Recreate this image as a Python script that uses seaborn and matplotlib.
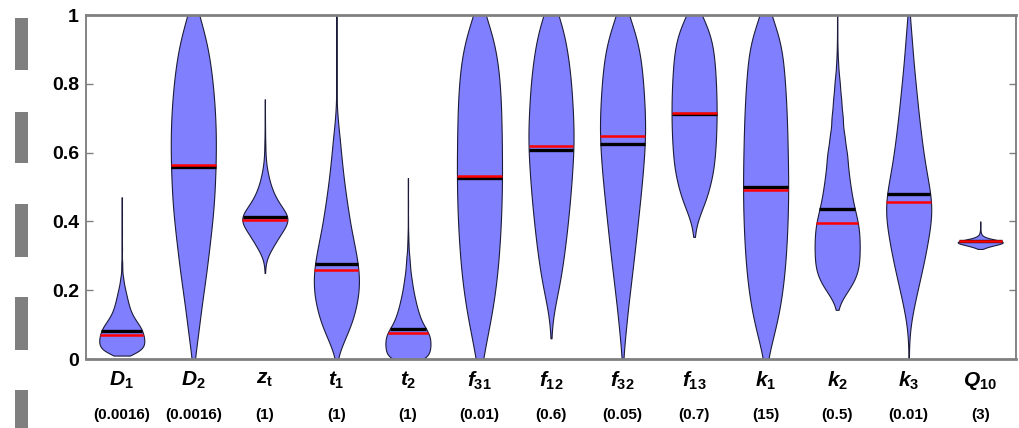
import numpy as np
import pandas as pd
import seaborn as sns
import matplotlib
matplotlib.use("Agg")
import matplotlib.pyplot as plt
from matplotlib.patches import Rectangle

# parameter names, axis labels and nominal values
names = ["D1", "D2", "zt", "t1", "t2", "f31", "f12", "f32", "f13", "k1", "k2", "k3", "Q10"]
labels = [r"$D_1$", r"$D_2$", r"$z_\mathrm{t}$", r"$t_1$", r"$t_2$", r"$f_{31}$", r"$f_{12}$",
          r"$f_{32}$", r"$f_{13}$", r"$k_1$", r"$k_2$", r"$k_3$", r"$Q_{10}$"]
nominal = ["(0.0016)", "(0.0016)", "(1)", "(1)", "(1)", "(0.01)", "(0.6)", "(0.05)",
           "(0.7)", "(15)", "(0.5)", "(0.01)", "(3)"]

# black = mean, red = median (normalised 0..1)
mean_vals = [0.080, 0.557, 0.412, 0.275, 0.088, 0.527, 0.607, 0.625, 0.713, 0.500, 0.435, 0.480, 0.342]
median_vals = [0.070, 0.563, 0.405, 0.260, 0.075, 0.532, 0.618, 0.648, 0.714, 0.490, 0.395, 0.457, 0.342]

# posterior density profiles: levels and relative width
D1_y = [0.01, 0.02, 0.03, 0.04, 0.05, 0.06, 0.07, 0.08, 0.09, 0.10, 0.11, 0.12, 0.13, 0.14,
        0.15, 0.16, 0.17, 0.18, 0.19, 0.20, 0.21, 0.22, 0.23, 0.24, 0.26, 0.28, 0.32, 0.37,
        0.42, 0.47]
D1_w = [7, 16, 20, 21.5, 22, 21.5, 21, 20, 18.5, 16.5, 14, 12, 10, 8.5,
        7.5, 6.5, 5.7, 5, 4.2, 3.5, 2.7, 2, 1.5, 1, 0.5, 0.3, 0.15, 0.1,
        0.1, 0.1]
D2_y = [0.0, 0.05, 0.1, 0.15, 0.2, 0.25, 0.3, 0.35, 0.4, 0.45, 0.5, 0.55, 0.6, 0.65, 0.7,
        0.75, 0.8, 0.85, 0.9, 0.95, 1.0]
D2_w = [1, 4, 6, 8, 10.5, 13, 15, 17, 19, 20.5, 21.5, 22, 22.5, 22.5, 22, 21, 19.5, 17.5, 15, 11, 6]
zt_y = [0.25, 0.27, 0.29, 0.31, 0.33, 0.35, 0.37, 0.39, 0.41, 0.43, 0.45, 0.47, 0.49, 0.51,
        0.53, 0.55, 0.58, 0.62, 0.66, 0.70, 0.755]
zt_w = [0.2, 0.3, 1, 4, 7.5, 11, 14.5, 19, 21.5, 17, 12.5, 9, 6.5, 4.5,
        3, 1.8, 0.8, 0.4, 0.2, 0.1, 0.1]
t1_y = [0.0, 0.03, 0.06, 0.09, 0.12, 0.15, 0.18, 0.21, 0.24, 0.27, 0.30, 0.33, 0.36, 0.39, 0.42,
        0.45, 0.48, 0.51, 0.54, 0.57, 0.60, 0.63, 0.66, 0.70, 0.75, 0.80, 0.85, 0.90, 0.95, 1.0]
t1_w = [0.5, 4, 8.5, 13, 16.5, 19, 21, 22, 22, 21, 19.5, 17.5, 15.5, 13.5, 12,
        10.5, 9, 7.7, 6.5, 5.5, 4.5, 3.5, 2.5, 1.2, 0.3, 0.1, 0.1, 0.1, 0.1, 0.1]
t2_y = [0.0, 0.015, 0.03, 0.045, 0.06, 0.075, 0.09, 0.105, 0.12, 0.135, 0.15, 0.165, 0.18,
        0.195, 0.21, 0.225, 0.24, 0.26, 0.28, 0.30, 0.33, 0.36, 0.40, 0.45, 0.50, 0.526]
t2_w = [20, 20, 21, 21.5, 21, 20, 16.5, 13.5, 11.5, 10, 8.5, 7.5, 6.3,
        5.3, 4.5, 3.7, 3, 2.3, 1.7, 1.2, 0.6, 0.3, 0.1, 0.1, 0.1, 0.1]
f31_y = [0.0, 0.05, 0.1, 0.15, 0.2, 0.25, 0.3, 0.35, 0.4, 0.45, 0.5, 0.55, 0.6, 0.65, 0.7,
         0.75, 0.8, 0.85, 0.9, 0.95, 1.0]
f31_w = [4, 6.5, 10.5, 13.5, 16, 18, 19.5, 20.7, 21.5, 22.2, 22.5, 22.7, 22.5, 22.3, 22,
         21.5, 20.5, 19, 16.5, 12.5, 6]
f12_y = [0.06, 0.09, 0.12, 0.15, 0.2, 0.25, 0.3, 0.35, 0.4, 0.45, 0.5, 0.55, 0.6, 0.65, 0.7,
         0.75, 0.8, 0.85, 0.9, 0.95, 1.0]
f12_w = [0.1, 0.3, 1, 3.5, 7.5, 10, 12.5, 14.5, 16.3, 18, 19.3, 20.5, 21.5, 22, 21.3,
         20.5, 19.5, 17.8, 15.5, 12.5, 8]
f32_y = [0.0, 0.05, 0.1, 0.15, 0.2, 0.25, 0.3, 0.35, 0.4, 0.45, 0.5, 0.55, 0.6, 0.65, 0.7,
         0.75, 0.8, 0.85, 0.9, 0.95, 1.0]
f32_w = [0.3, 2.2, 3.6, 5.3, 7.3, 9.3, 11.2, 13, 14.8, 16.5, 18.2, 19.7, 21, 22, 21.8,
         21, 20, 18.5, 16.5, 12.5, 6]
f13_y = [0.355, 0.38, 0.40, 0.42, 0.44, 0.46, 0.48, 0.52, 0.56, 0.60, 0.64, 0.68, 0.72, 0.76,
         0.80, 0.84, 0.88, 0.92, 0.96, 1.0]
f13_w = [0.1, 0.4, 2, 5, 8.5, 12, 15, 18.5, 20.3, 21.5, 22.3, 22.8, 23, 22.8,
         22.3, 21.5, 20.5, 18.8, 15, 8]
k1_y = [0.0, 0.05, 0.1, 0.15, 0.2, 0.25, 0.3, 0.35, 0.4, 0.45, 0.5, 0.55, 0.6, 0.65, 0.7,
        0.75, 0.8, 0.85, 0.9, 0.95, 1.0]
k1_w = [1.5, 6.5, 11, 14.5, 17, 19, 20.3, 21.2, 22, 22.4, 22.5, 22.4, 22.1, 21.7, 21.2,
        20.5, 19.5, 18.2, 16.5, 13, 5]
k2_y = [0.143, 0.16, 0.185, 0.21, 0.235, 0.26, 0.285, 0.31, 0.335, 0.36, 0.385, 0.41, 0.435,
        0.46, 0.485, 0.51, 0.535, 0.56, 0.585, 0.61, 0.65, 0.70, 0.75, 0.80, 0.85, 0.90, 0.95, 1.0]
k2_w = [0.3, 1.5, 7, 13, 17.5, 20, 20.7, 21, 21, 20.8, 20.2, 18.5, 16.5,
        14.5, 13.3, 12, 11, 10, 9.2, 8.3, 6.8, 5.2, 3.8, 2.5, 1, 0.3, 0.1, 0.1]
k3_y = [0.0, 0.04, 0.08, 0.12, 0.16, 0.20, 0.24, 0.28, 0.32, 0.36, 0.40, 0.44, 0.48, 0.52,
        0.56, 0.60, 0.64, 0.68, 0.72, 0.76, 0.80, 0.84, 0.88, 0.92, 0.96, 1.0]
k3_w = [0.1, 0.3, 0.8, 2.8, 5.5, 8.5, 11.5, 14.5, 17, 19.3, 21.5, 22.5, 21, 18.5,
        16, 14, 12.3, 10.8, 9.2, 8, 6.7, 5.3, 4.2, 3.2, 2.2, 1]
Q10_y = [0.32, 0.325, 0.33, 0.335, 0.34, 0.345, 0.35, 0.355, 0.36, 0.365, 0.37, 0.38, 0.39, 0.40]
Q10_w = [0.5, 5, 9, 16, 21, 14, 6, 2.5, 1, 0.5, 0.3, 0.1, 0.1, 0.1]

profiles = {"D1": (D1_y, D1_w), "D2": (D2_y, D2_w), "zt": (zt_y, zt_w), "t1": (t1_y, t1_w),
            "t2": (t2_y, t2_w), "f31": (f31_y, f31_w), "f12": (f12_y, f12_w),
            "f32": (f32_y, f32_w), "f13": (f13_y, f13_w), "k1": (k1_y, k1_w),
            "k2": (k2_y, k2_w), "k3": (k3_y, k3_w), "Q10": (Q10_y, Q10_w)}

plt.rcParams['font.family'] = ['Liberation Sans', 'DejaVu Sans']
plt.rcParams['mathtext.fontset'] = 'custom'
plt.rcParams['mathtext.it'] = 'Liberation Sans:italic:bold'
plt.rcParams['mathtext.rm'] = 'Liberation Sans:bold'
plt.rcParams['mathtext.bf'] = 'Liberation Sans:bold'

fig = plt.figure(figsize=(10.19, 4.28), dpi=100)
ax = fig.add_axes([86 / 1019, 69 / 428, 930 / 1019, 344 / 428])

polys = []
for name in names:
    yv = np.array(profiles[name][0])
    # mass at each level = width * local level spacing, turned into repeated samples
    mass = np.array(profiles[name][1]) * np.gradient(yv)
    counts = np.maximum(1, np.round(mass * 3000 / mass.sum())).astype(int)
    samples = np.repeat(yv, counts)
    sd = samples.std(ddof=1)
    bw = np.median(np.diff(yv))
    df = pd.DataFrame({"param": name, "value": samples})
    sns.violinplot(data=df, x="param", y="value", order=names, cut=0,
                   bw_method=bw / sd, density_norm="width", width=0.63, inner=None,
                   color="#8080ff", saturation=1, linecolor="#1c1c3a", linewidth=0.8, ax=ax)
    polys.append(ax.collections[-1])

# mean / median bars spanning the violin at their level
for i, coll in enumerate(polys):
    v = coll.get_paths()[0].vertices
    r = v[v[:, 0] >= i]
    o = np.argsort(r[:, 1])
    for val, col, lw in ((mean_vals[i], "black", 2.4), (median_vals[i], "#ff0000", 1.8)):
        hw = np.interp(val, r[o, 1], r[o, 0]) - i
        ax.plot([i - hw, i + hw], [val, val], color=col, lw=lw, solid_capstyle="butt", zorder=3)

ax.set_xlim(-0.5, 12.5)
ax.set_ylim(0, 1)
ax.set_xlabel("")
ax.set_ylabel("")
ax.set_xticks(range(len(names)))
ax.set_xticklabels(labels, fontsize=15)
ax.tick_params(axis="x", length=0, pad=8)
ax.set_yticks([0, 0.2, 0.4, 0.6, 0.8, 1.0])
ax.set_yticklabels(["0", "0.2", "0.4", "0.6", "0.8", "1"], fontsize=14, fontweight="bold")
ax.tick_params(axis="y", direction="in", right=True, length=5, width=1, color="#808080", pad=5)
for side in ["top", "bottom"]:
    ax.spines[side].set_linewidth(2)
    ax.spines[side].set_color("#808080")
for side in ["left", "right"]:
    ax.spines[side].set_linewidth(1.2)
    ax.spines[side].set_color("#707070")

for i, s in enumerate(nominal):
    ax.text(i, -0.163, s, transform=ax.get_xaxis_transform(), ha="center", va="center",
            fontsize=11, fontweight="bold")

# grey marks in the left margin of the scanned page
for top, bot in [(18, 70), (112, 163), (204, 257), (297, 350), (390, 428)]:
    fig.add_artist(Rectangle((15 / 1019, 1 - bot / 428), 13 / 1019, (bot - top) / 428,
                             transform=fig.transFigure, color="#7f7f7f", lw=0))

fig.savefig("out.png", dpi=100)
